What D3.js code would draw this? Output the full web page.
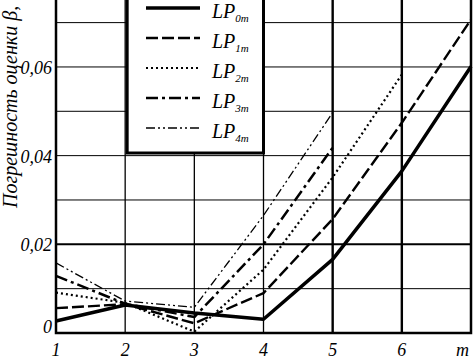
<!DOCTYPE html>
<html>
<head>
<meta charset="utf-8">
<script src="https://cdn.jsdelivr.net/npm/d3@7"></script>
<style>
  body { margin: 0; background: #fff; }
  text { font-family: "Liberation Serif", "Times New Roman", serif; font-style: italic; fill: #000; }
</style>
</head>
<body>
<div id="mainChart"></div>
<script>
// m values and estimation error series
const mValues = [1, 2, 3, 4, 5, 6, 7];
const lp0 = [0.0027, 0.0063, 0.0045, 0.0031, 0.0166, 0.0365, 0.0601];
const lp1 = [0.0056, 0.0065, 0.0022, 0.0090, 0.0257, 0.0474, 0.0707];
const lp2 = [0.0091, 0.0068, 0.0003, 0.0143, 0.0351, 0.0583];
const lp3 = [0.0129, 0.0066, 0.0036, 0.0200, 0.0418];
const lp4 = [0.0158, 0.0072, 0.0058, 0.0265, 0.0497];

const seriesNames = ["0m", "1m", "2m", "3m", "4m"];
const yTicks = [0, 0.02, 0.04, 0.06];
const yTickLabels = ["0", "0,02", "0,04", "0,06"];
const xTickLabels = ["1", "2", "3", "4", "5", "6", "m"];
const yTitle = "Погрешность оценки β,";

const W = 474, H = 359;
const LEFT = 56, RIGHT = 471, BOTTOM = 333;

const styles = [
  { width: 3.5, dash: null },
  { width: 2.4, dash: "12,4" },
  { width: 2.2, dash: "2,3" },
  { width: 2.5, dash: "12,4,3,4" },
  { width: 1.3, dash: "9,3,2,3,2,3" },
];

const svg = d3.select("#mainChart")
  .append("svg")
  .attr("width", W)
  .attr("height", H);

const x = d3.scaleLinear().domain([1, 7]).range([LEFT, RIGHT]);
const y = d3.scaleLinear().domain([0, 0.0751]).range([BOTTOM, 0]);

// grid
const grid = svg.append("g");
grid.selectAll(".hgrid")
  .data(d3.range(1, 8).map((i) => i / 100))
  .join("line")
  .attr("x1", LEFT).attr("x2", RIGHT)
  .attr("y1", (d) => y(d)).attr("y2", (d) => y(d))
  .attr("stroke", "#000")
  .attr("stroke-width", (d) => (Math.abs(d - 0.02) < 1e-9 ? 2 : 1));

grid.selectAll(".vgrid")
  .data([2, 3, 4, 5, 6])
  .join("line")
  .attr("x1", (d) => x(d)).attr("x2", (d) => x(d))
  .attr("y1", 0).attr("y2", BOTTOM)
  .attr("stroke", "#000")
  .attr("stroke-width", (d) => (d >= 5 ? 2.4 : 1.3));

// series lines
const allSeries = [lp0, lp1, lp2, lp3, lp4];
const line = d3.line()
  .x((d, i) => x(mValues[i]))
  .y((d) => y(d));

svg.append("g")
  .selectAll("path")
  .data(allSeries)
  .join("path")
  .attr("d", line)
  .attr("fill", "none")
  .attr("stroke", "#000")
  .attr("stroke-width", (d, i) => styles[i].width)
  .attr("stroke-dasharray", (d, i) => styles[i].dash)
  .attr("stroke-linejoin", "round");

// frame
svg.append("path")
  .attr("d", `M${LEFT},0 V${BOTTOM} H${RIGHT} V0`)
  .attr("fill", "none")
  .attr("stroke", "#000")
  .attr("stroke-width", 2.5);

// legend box
const lg = svg.append("g");
lg.append("rect")
  .attr("x", x(2) + 2).attr("y", -5)
  .attr("width", x(4) - x(2) - 2).attr("height", 158)
  .attr("fill", "#fff")
  .attr("stroke", "#000")
  .attr("stroke-width", 3);

const rows = lg.selectAll(".row")
  .data(seriesNames)
  .join("g")
  .attr("transform", (d, i) => `translate(0, ${8 + i * 30})`);

rows.append("line")
  .attr("x1", 146).attr("x2", 200)
  .attr("stroke", "#000")
  .attr("stroke-width", (d, i) => styles[i].width)
  .attr("stroke-dasharray", (d, i) => styles[i].dash);

const lt = rows.append("text")
  .attr("x", 212).attr("y", 10)
  .attr("font-size", 20);
lt.append("tspan").text("LP");
lt.append("tspan")
  .attr("font-size", 11)
  .attr("dy", 4)
  .text((d) => d);

// tick labels
svg.append("g")
  .selectAll("text")
  .data(yTicks)
  .join("text")
  .attr("x", 52)
  .attr("y", (d) => y(d) + (d === 0 ? 0 : 7))
  .attr("text-anchor", "end")
  .attr("font-size", 18)
  .text((d, i) => yTickLabels[i]);

svg.append("g")
  .selectAll("text")
  .data(mValues)
  .join("text")
  .attr("x", (d) => (d === 7 ? x(d) - 2 : x(d)))
  .attr("y", 356)
  .attr("text-anchor", (d) => (d === 7 ? "end" : "middle"))
  .attr("font-size", 18)
  .text((d, i) => xTickLabels[i]);

// y title
svg.append("text")
  .attr("transform", "translate(17, 208) rotate(-90)")
  .attr("font-size", 20)
  .text(yTitle);
</script>
</body>
</html>
